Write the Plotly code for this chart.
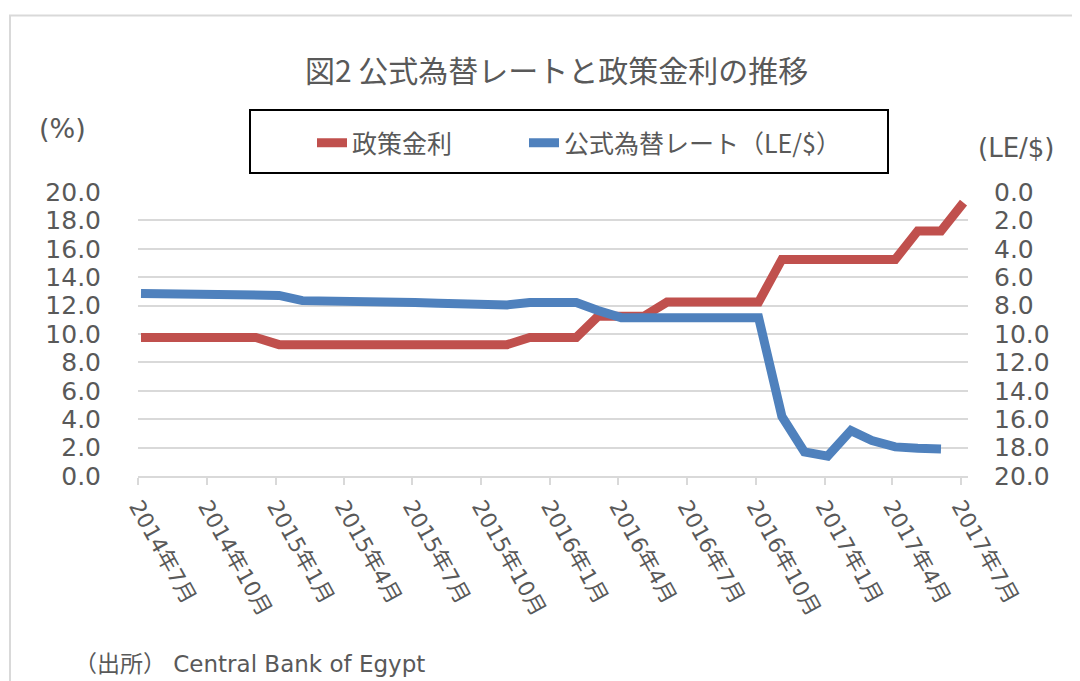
import plotly.graph_objects as go

# ---------------- data ----------------
months = [
    "2014-07", "2014-08", "2014-09", "2014-10", "2014-11", "2014-12",
    "2015-01", "2015-02", "2015-03", "2015-04", "2015-05", "2015-06",
    "2015-07", "2015-08", "2015-09", "2015-10", "2015-11", "2015-12",
    "2016-01", "2016-02", "2016-03", "2016-04", "2016-05", "2016-06",
    "2016-07", "2016-08", "2016-09", "2016-10", "2016-11", "2016-12",
    "2017-01", "2017-02", "2017-03", "2017-04", "2017-05", "2017-06",
    "2017-07",
]

# 政策金利 (%), left axis
policy_rate = [
    9.75, 9.75, 9.75, 9.75, 9.75, 9.75,
    9.25, 9.25, 9.25, 9.25, 9.25, 9.25,
    9.25, 9.25, 9.25, 9.25, 9.25, 9.75,
    9.75, 9.75, 11.25, 11.25, 11.25, 12.25,
    12.25, 12.25, 12.25, 12.25, 15.25, 15.25,
    15.25, 15.25, 15.25, 15.25, 17.25, 17.25,
    19.25,
]

# 公式為替レート (LE/$), right axis (reversed) — no value for 2017-07
exchange_rate = [
    7.15, 7.15, 7.15, 7.15, 7.15, 7.15,
    7.28, 7.65, 7.65, 7.65, 7.65, 7.65,
    7.78, 7.83, 7.83, 7.95, 7.95, 7.78,
    7.78, 7.78, 8.35, 8.85, 8.85, 8.85,
    8.85, 8.85, 8.85, 8.85, 15.8, 18.3,
    18.6, 16.8, 17.5, 17.95, 18.05, 18.1,
]

tick_months = ["2014-07", "2014-10", "2015-01", "2015-04", "2015-07", "2015-10",
               "2016-01", "2016-04", "2016-07", "2016-10", "2017-01", "2017-04",
               "2017-07"]
tick_labels = ["2014年7月", "2014年10月", "2015年1月", "2015年4月", "2015年7月",
               "2015年10月", "2016年1月", "2016年4月", "2016年7月", "2016年10月",
               "2017年1月", "2017年4月", "2017年7月"]

y_ticks = [0, 2, 4, 6, 8, 10, 12, 14, 16, 18, 20]

# ---------------- layout geometry (page pixels; body has an 8px margin) ----------------
OFF = 8
W, H = 1080 - OFF, 681 - OFF
L, R, T, B = 138 - OFF, 968 - OFF, 192 - OFF, 476 - OFF


def px_x(page_px):
    return (page_px - OFF - L) / (R - L)


def px_y(page_py):
    return (B - (page_py - OFF)) / (B - T)


point_day = "-05"
x_red = [m + point_day for m in months]
x_blue = [m + point_day for m in months[:len(exchange_rate)]]

GREY_TXT = "#595959"
GRID = "#d9d9d9"
NUM_FONT = "DejaVu Sans, Noto Sans CJK JP"
JP_FONT = "Noto Sans CJK JP, DejaVu Sans"

fig = go.Figure()
fig.add_trace(go.Scatter(
    x=x_red, y=policy_rate, name="政策金利", mode="lines",
    line=dict(color="#C0504D", width=9), yaxis="y", legend="legend",
))
fig.add_trace(go.Scatter(
    x=x_blue, y=exchange_rate, name="公式為替レート（LE/$）", mode="lines",
    line=dict(color="#4F81BD", width=9), yaxis="y2", legend="legend2",
))

legend_common = dict(
    orientation="h", xanchor="left", yanchor="middle",
    bgcolor="rgba(0,0,0,0)", borderwidth=0,
    font=dict(family=JP_FONT, size=25, color=GREY_TXT),
)

fig.update_layout(
    width=W, height=H, autosize=False,
    margin=dict(l=L, r=W - R, t=T, b=H - B, pad=0),
    paper_bgcolor="white", plot_bgcolor="white",
    font=dict(family=JP_FONT, color=GREY_TXT),
    xaxis=dict(
        type="date", range=["2014-07-01", "2017-07-11"],
        tickmode="array", tickvals=[m + "-01" for m in tick_months], ticktext=tick_labels,
        tickangle=61, ticks="outside", ticklen=7, tickwidth=2, tickcolor=GRID,
        showline=True, linecolor=GRID, linewidth=2, showgrid=False, zeroline=False,
        tickfont=dict(family=NUM_FONT, size=22, color=GREY_TXT),
        ticklabelstandoff=0,
    ),
    yaxis=dict(
        range=[0, 20], tickmode="array", tickvals=y_ticks, tickformat=".1f",
        showgrid=True, gridcolor=GRID, gridwidth=2, zeroline=False, ticks="",
        showline=False,
        tickfont=dict(family=NUM_FONT, size=25, color=GREY_TXT),
        ticklabelstandoff=36,
    ),
    yaxis2=dict(
        range=[20, 0], overlaying="y", side="right",
        tickmode="array", tickvals=y_ticks, tickformat=".1f",
        showgrid=False, zeroline=False, ticks="", showline=False,
        tickfont=dict(family=NUM_FONT, size=25, color=GREY_TXT),
        ticklabelstandoff=25,
    ),
    showlegend=True,
    legend=dict(x=px_x(312), y=px_y(143), **legend_common),
    legend2=dict(x=px_x(524), y=px_y(143), **legend_common),
    shapes=[
        # chart outer border
        dict(type="rect", xref="paper", yref="paper",
             x0=px_x(10), x1=px_x(1100), y0=px_y(700), y1=px_y(15.5),
             line=dict(color=GRID, width=2), fillcolor="rgba(0,0,0,0)", layer="below"),
        # legend frame
        dict(type="rect", xref="paper", yref="paper",
             x0=px_x(250), x1=px_x(888), y0=px_y(173), y1=px_y(110),
             line=dict(color="black", width=2), fillcolor="rgba(0,0,0,0)"),
    ],
    annotations=[
        dict(text="図2 公式為替レートと政策金利の推移", xref="paper", yref="paper",
             x=px_x(556), y=px_y(69), xanchor="center", yanchor="middle",
             showarrow=False, font=dict(family=JP_FONT, size=30, color=GREY_TXT)),
        dict(text="(%)", xref="paper", yref="paper",
             x=px_x(62), y=px_y(128), xanchor="center", yanchor="middle",
             showarrow=False, font=dict(family=NUM_FONT, size=27, color=GREY_TXT)),
        dict(text="(LE/$)", xref="paper", yref="paper",
             x=px_x(1016), y=px_y(148), xanchor="center", yanchor="middle",
             showarrow=False, font=dict(family=NUM_FONT, size=26, color=GREY_TXT)),
        dict(text="（出所） Central Bank of Egypt", xref="paper", yref="paper",
             x=px_x(72), y=px_y(664), xanchor="left", yanchor="middle",
             showarrow=False, font=dict(family=NUM_FONT, size=23, color=GREY_TXT)),
    ],
)

fig.write_html("out.html")
